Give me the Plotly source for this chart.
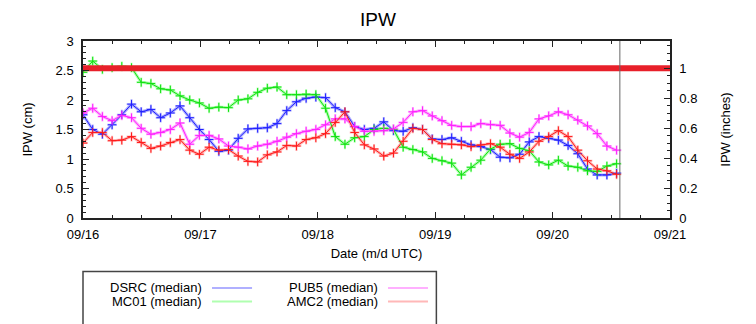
import pandas as pd
import plotly.graph_objects as go

# ---- data (IPW in cm, ~2-hourly samples from 09/16 00:00 UTC) ----
times = pd.date_range("2013-09-16 00:00", periods=56, freq="119min")

dsrc = [1.75, 1.50, 1.42, 1.58, 1.75, 1.93, 1.80, 1.84, 1.70, 1.78, 1.90, 1.70, 1.50, 1.33,
        1.13, 1.15, 1.35, 1.51, 1.52, 1.53, 1.60, 1.82, 1.97, 2.03, 2.05, 2.04, 1.87, 1.80,
        1.55, 1.50, 1.52, 1.63, 1.48, 1.47, 1.53, 1.50, 1.34, 1.33, 1.36, 1.30, 1.24, 1.21,
        1.16, 1.03, 1.02, 1.08, 1.29, 1.38, 1.35, 1.32, 1.23, 1.09, 0.83, 0.73, 0.73, 0.76]
mc01 = [2.47, 2.66, 2.52, 2.55, 2.57, 2.55, 2.30, 2.28, 2.19, 2.17, 2.07, 2.00, 1.95, 1.86,
        1.88, 1.87, 2.00, 2.02, 2.13, 2.20, 2.22, 2.09, 2.09, 2.10, 2.09, 1.86, 1.38, 1.25,
        1.36, 1.38, 1.50, 1.52, 1.50, 1.20, 1.16, 1.12, 1.01, 0.97, 0.93, 0.73, 0.86, 0.98,
        1.17, 1.25, 1.26, 1.18, 1.14, 0.95, 0.90, 0.98, 0.88, 0.86, 0.80, 0.79, 0.88, 0.92]
pub5 = [1.78, 1.86, 1.72, 1.65, 1.74, 1.70, 1.52, 1.42, 1.45, 1.50, 1.61, 1.25, 1.40, 1.40,
        1.34, 1.22, 1.20, 1.17, 1.22, 1.25, 1.30, 1.37, 1.43, 1.47, 1.50, 1.58, 1.68, 1.68,
        1.55, 1.47, 1.47, 1.48, 1.51, 1.62, 1.80, 1.82, 1.73, 1.65, 1.57, 1.55, 1.55, 1.60,
        1.58, 1.57, 1.44, 1.37, 1.45, 1.68, 1.73, 1.80, 1.75, 1.66, 1.56, 1.43, 1.22, 1.15]
amc2 = [1.27, 1.45, 1.45, 1.31, 1.32, 1.38, 1.28, 1.18, 1.22, 1.28, 1.33, 1.15, 1.08, 1.20,
        1.15, 1.16, 1.05, 0.96, 0.95, 1.07, 1.12, 1.23, 1.22, 1.33, 1.36, 1.43, 1.62, 1.80,
        1.45, 1.24, 1.17, 1.05, 1.10, 1.30, 1.52, 1.50, 1.33, 1.26, 1.25, 1.24, 1.21, 1.24,
        1.26, 1.20, 1.08, 1.01, 1.12, 1.30, 1.38, 1.48, 1.38, 1.15, 0.97, 0.83, 0.80, 0.74]

series_names = ["DSRC (median)", "MC01 (median)", "PUB5 (median)", "AMC2 (median)"]
series_values = [dsrc, mc01, pub5, amc2]
dark_colors = ["#2020ff", "#10e010", "#ff20ff", "#ff1a1a"]
light_colors = ["#b0b0ff", "#b0ffb0", "#ffb0ff", "#ffb8b8"]

x_range = ["2013-09-16 00:00", "2013-09-21 00:00"]
now_time = "2013-09-20 13:45"
threshold_in = 1.0
cm_per_inch = 2.54
y_max_cm = 3.0

FONT = "Liberation Sans, Arial, sans-serif"

fig = go.Figure()

for name, vals, dc, lc in zip(series_names, series_values, dark_colors, light_colors):
    fig.add_trace(go.Scatter(
        x=times, y=vals, mode="lines+markers", name=name, showlegend=False,
        line=dict(color=lc, width=3),
        marker=dict(symbol="cross-thin", size=7, line=dict(color=lc, width=2)),
        hoverinfo="skip"))
for name, vals, dc, lc in zip(series_names, series_values, dark_colors, light_colors):
    fig.add_trace(go.Scatter(
        x=times, y=vals, mode="lines+markers", name=name, showlegend=False,
        line=dict(color=dc, width=1),
        marker=dict(symbol="cross-thin", size=6, line=dict(color=dc, width=1))))

# 1-inch reference line on the inches axis
fig.add_trace(go.Scatter(x=x_range, y=[threshold_in, threshold_in], yaxis="y2",
                         mode="lines", line=dict(color="#e8202a", width=6),
                         showlegend=False, hoverinfo="skip"))

fig.add_shape(type="line", xref="x", yref="paper", x0=now_time, x1=now_time,
              y0=0, y1=1, line=dict(color="#666666", width=1))

# ---- custom legend (text right-aligned, sample line to the right) ----
fig.add_shape(type="rect", xref="paper", yref="paper", x0=0.0, x1=0.602,
              y0=-0.66, y1=-0.302, line=dict(color="#444444", width=1.5),
              fillcolor="rgba(0,0,0,0)")
leg_pos = [(0.206, 0.2198, 0.288, -0.395), (0.206, 0.2198, 0.288, -0.472),
           (0.506, 0.5196, 0.5877, -0.395), (0.506, 0.5196, 0.5877, -0.472)]
for name, lc, (tx, lx0, lx1, ly) in zip(series_names, light_colors, leg_pos):
    fig.add_annotation(x=tx, y=ly, xref="paper", yref="paper", text=name,
                       showarrow=False, xanchor="right", yanchor="middle",
                       font=dict(size=13, color="black", family=FONT))
    fig.add_shape(type="line", xref="paper", yref="paper", x0=lx0, x1=lx1,
                  y0=ly, y1=ly, line=dict(color=lc, width=2))

axis_common = dict(showline=True, linecolor="#222222", linewidth=1.5, ticks="inside",
                   tickcolor="#222222", showgrid=False, zeroline=False,
                   tickfont=dict(size=13, color="black", family=FONT))

fig.update_layout(
    width=756, height=324,
    margin=dict(l=83, r=86, t=41, b=106),
    paper_bgcolor="white", plot_bgcolor="white",
    font=dict(family=FONT, color="black"),
    title=dict(text="IPW", x=0.5, xanchor="center", y=0.94, yanchor="middle",
               font=dict(size=19, family=FONT)),
    showlegend=False,
    xaxis=dict(axis_common, type="date", range=x_range, dtick=86400000,
               tickformat="%m/%d", ticklen=6, mirror="ticks", ticklabelstandoff=4,
               minor=dict(ticks="inside", ticklen=3, dtick=6 * 3600 * 1000,
                          tickcolor="#222222"),
               title=dict(text="Date (m/d UTC)", standoff=8,
                          font=dict(size=13, family=FONT))),
    yaxis=dict(axis_common, range=[0, y_max_cm], dtick=0.5, ticklen=6,
               ticklabelstandoff=5,
               minor=dict(ticks="inside", ticklen=3, dtick=0.1, tickcolor="#222222"),
               title=dict(text="IPW (cm)", standoff=20, font=dict(size=13, family=FONT))),
    yaxis2=dict(axis_common, overlaying="y", side="right",
                range=[0, y_max_cm / cm_per_inch], dtick=0.2, ticklen=6,
                ticklabelstandoff=5,
                minor=dict(ticks="inside", ticklen=3, dtick=0.05, tickcolor="#222222"),
                title=dict(text="IPW (inches)", standoff=24,
                           font=dict(size=13, family=FONT))),
)

fig.write_html("out.html")
